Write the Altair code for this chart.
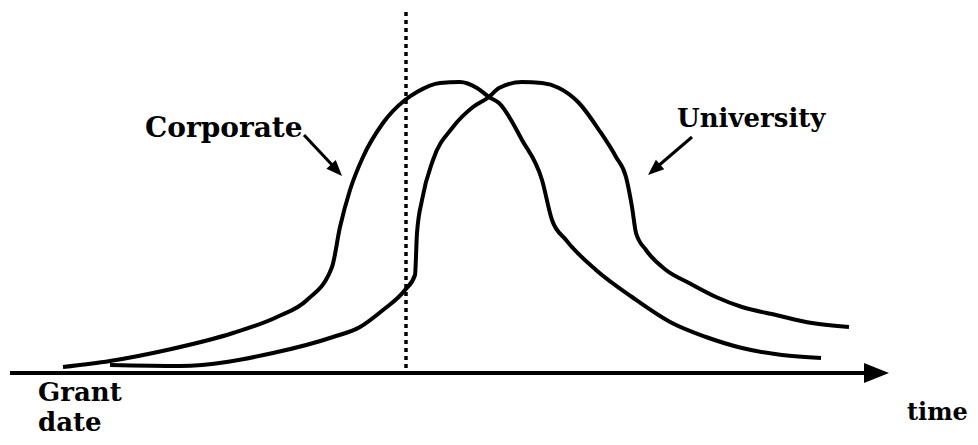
import altair as alt
import pandas as pd

# ---- data (time units along the axis, height above the axis) ----
corp_time = [53, 100, 157, 223, 267, 297, 322, 330, 340, 353, 373, 395, 407, 430, 450, 467,
             479, 489, 512, 532, 542, 556, 586, 622, 662, 696, 732, 772, 811]
corp_value = [6, 12, 23, 40, 56, 73, 106, 146, 183, 216, 250, 273, 281, 290, 291, 285,
              276, 270, 233, 193, 153, 133, 103, 76, 50, 36, 25, 18, 15]

univ_time = [100, 170, 263, 323, 350, 373, 395, 405, 407, 412, 423, 443, 463, 479, 489, 512,
             532, 549, 569, 589, 606, 616, 622, 626, 636, 656, 679, 706, 732, 766, 802, 839]
univ_value = [8, 7, 20, 36, 46, 63, 83, 98, 140, 173, 213, 246, 266, 276, 285, 291,
              290, 285, 270, 243, 216, 196, 166, 140, 123, 103, 90, 76, 66, 58, 50, 46]

grant_time = 396          # the dotted vertical marker
grant_top = 363

axis_end = 879            # tip of the time arrow

label_text = ["Corporate", "University", "Grant", "date", "time"]
label_time = [135, 667, 28, 28, 897]
label_value = [236, 246, -28, -58, -47]

# annotation pointers: start -> end of shaft, tip of head
ptr_name = ["Corporate", "University"]
ptr_t0 = [294, 682]
ptr_v0 = [238, 236]
ptr_t1 = [324, 647]
ptr_v1 = [206, 206]
ptr_tip_t = [332, 638]
ptr_tip_v = [197, 198]

# ---- tables ----
curves = pd.concat([
    pd.DataFrame({"series": "Corporate", "time": corp_time, "value": corp_value}),
    pd.DataFrame({"series": "University", "time": univ_time, "value": univ_value}),
])
labels = pd.DataFrame({"text": label_text, "time": label_time, "value": label_value})
ptrs = pd.DataFrame({"name": ptr_name, "t0": ptr_t0, "v0": ptr_v0, "t1": ptr_t1, "v1": ptr_v1,
                     "tt": ptr_tip_t, "tv": ptr_tip_v})
axis_df = pd.DataFrame({"t0": [0], "t1": [axis_end - 19], "v": [0], "tip": [axis_end]})
marker_df = pd.DataFrame({"t": [grant_time], "v0": [5], "v1": [grant_top]})

xs = alt.Scale(domain=[-2, 960], nice=False, zero=False)
ys = alt.Scale(domain=[-64, 365], nice=False, zero=False)


def X(f):
    return alt.X(f, type="quantitative", scale=xs, axis=None)


def Y(f):
    return alt.Y(f, type="quantitative", scale=ys, axis=None)


head = "M0,0L-2,-0.8L-2,0.8Z"

lines = alt.Chart(curves).mark_line(
    interpolate="monotone", strokeWidth=4, color="black", strokeCap="butt", strokeJoin="round"
).encode(x=X("time"), y=Y("value"), detail="series:N")

axis_shaft = alt.Chart(axis_df).mark_rule(strokeWidth=4, color="black").encode(
    x=X("t0"), x2="t1", y=Y("v"))
axis_head = alt.Chart(axis_df).mark_point(
    shape=head, size=625, filled=True, color="black", opacity=1, strokeWidth=0
).encode(x=X("tip"), y=Y("v"))

marker = alt.Chart(marker_df).mark_rule(strokeWidth=3.5, strokeDash=[4, 4], color="black").encode(
    x=X("t"), y=Y("v0"), y2="v1")

shafts = alt.Chart(ptrs).mark_rule(strokeWidth=3, color="black").encode(
    x=X("t0"), x2="t1", y=Y("v0"), y2="v1")
head_c = alt.Chart(ptrs[ptrs.name == "Corporate"]).mark_point(
    shape=head, size=256, angle=47, filled=True, color="black", opacity=1, strokeWidth=0
).encode(x=X("tt"), y=Y("tv"))
head_u = alt.Chart(ptrs[ptrs.name == "University"]).mark_point(
    shape=head, size=256, angle=139, filled=True, color="black", opacity=1, strokeWidth=0
).encode(x=X("tt"), y=Y("tv"))

big = labels[labels.text.isin(["Corporate"])]
mid = labels[labels.text.isin(["University", "Grant", "date"])]
small = labels[labels.text.isin(["time"])]


def text_layer(df, size):
    return alt.Chart(df).mark_text(
        align="left", baseline="alphabetic", font="DejaVu Serif", fontWeight="bold",
        fontSize=size, color="black"
    ).encode(x=X("time"), y=Y("value"), text="text:N")


chart = alt.layer(
    marker, lines, axis_shaft, axis_head, shafts, head_c, head_u,
    text_layer(big, 28), text_layer(mid, 26), text_layer(small, 24)
).properties(
    width=962, height=429, padding=0, autosize=alt.AutoSizeParams(type="none"),
    background="white"
).configure_view(strokeWidth=0)

chart.save("out.html", embed_options={"renderer": "svg", "actions": False})
